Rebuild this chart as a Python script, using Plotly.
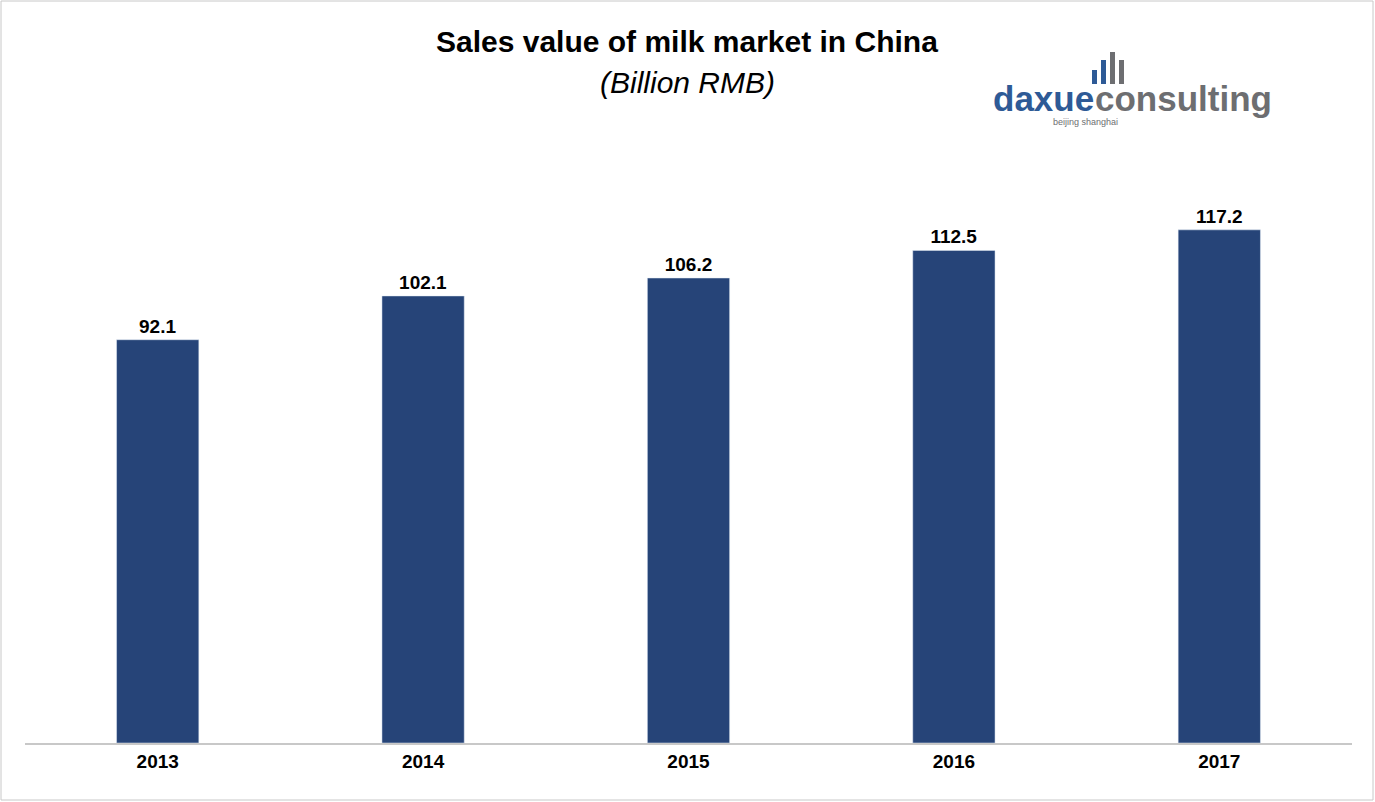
import plotly.graph_objects as go

years = ["2013", "2014", "2015", "2016", "2017"]
values = [92.1, 102.1, 106.2, 112.5, 117.2]
labels = ["<b>92.1</b>", "<b>102.1</b>", "<b>106.2</b>", "<b>112.5</b>", "<b>117.2</b>"]

fig = go.Figure(go.Bar(x=years, y=values, text=labels, textposition="outside",
                       marker_color="#264478", width=0.31,
                       textfont=dict(family="Liberation Sans", size=19, color="black"),
                       cliponaxis=False))
W, H = 1375, 802
L, R, T, B = 25, 23, 130, 59
pw, ph = W - L - R, H - T - B
def px(x): return (x - L) / pw
def py(y): return (H - B - y) / ph
fig.update_layout(
    width=W, height=H, margin=dict(l=L, r=R, t=T, b=B),
    plot_bgcolor="white", paper_bgcolor="white", showlegend=False,
    xaxis=dict(showline=True, linecolor="#c8c8c8", linewidth=1.5, ticks="",
               tickvals=years, ticktext=["<b>%s</b>" % y for y in years],
               tickfont=dict(family="Liberation Sans", size=19, color="black")),
    yaxis=dict(range=[0, 140], visible=False),
    font=dict(family="Liberation Sans"),
    annotations=[
        dict(text="<b>Sales value of milk market in China</b>", x=px(687), y=py(23), xref="paper", yref="paper",
             yanchor="top", showarrow=False, font=dict(size=30, color="black")),
        dict(text="<i>(Billion RMB)</i>", x=px(687), y=py(64), xref="paper", yref="paper",
             yanchor="top", showarrow=False, font=dict(size=30, color="black")),
        dict(text="<b>daxue</b>", x=px(1096), y=py(77), xref="paper", yref="paper", xanchor="right",
             yanchor="top", showarrow=False, font=dict(size=35, color="#2e5a96")),
        dict(text="<b>consulting</b>", x=px(1093), y=py(77), xref="paper", yref="paper", xanchor="left",
             yanchor="top", showarrow=False, font=dict(size=35, color="#6d6e71")),
        dict(text="beijing shanghai", x=px(1120), y=py(115), xref="paper", yref="paper",
             yanchor="top", showarrow=False, font=dict(size=9, color="#6d6e71")),
    ],
    shapes=[dict(type="rect", xref="paper", yref="paper", fillcolor=c, line_width=0,
                 x0=px(x0), x1=px(x0 + 5), y0=py(84), y1=py(84 - h))
            for x0, h, c in [(1092, 14, "#2e5a96"), (1101, 24, "#2e5a96"), (1110, 32, "#6d6e71"), (1119, 24, "#6d6e71")]] +
           [dict(type="rect", xref="paper", yref="paper", x0=px(1), x1=px(1373), y0=py(800), y1=py(1),
                 line=dict(color="#c8c8c8", width=1))],
)
fig.write_html("out.html", config={"displayModeBar": False})
with open("out.html") as f:
    s = f.read()
s = s.replace("<body>", "<body style='margin:0'>", 1)
with open("out.html", "w") as f:
    f.write(s)
